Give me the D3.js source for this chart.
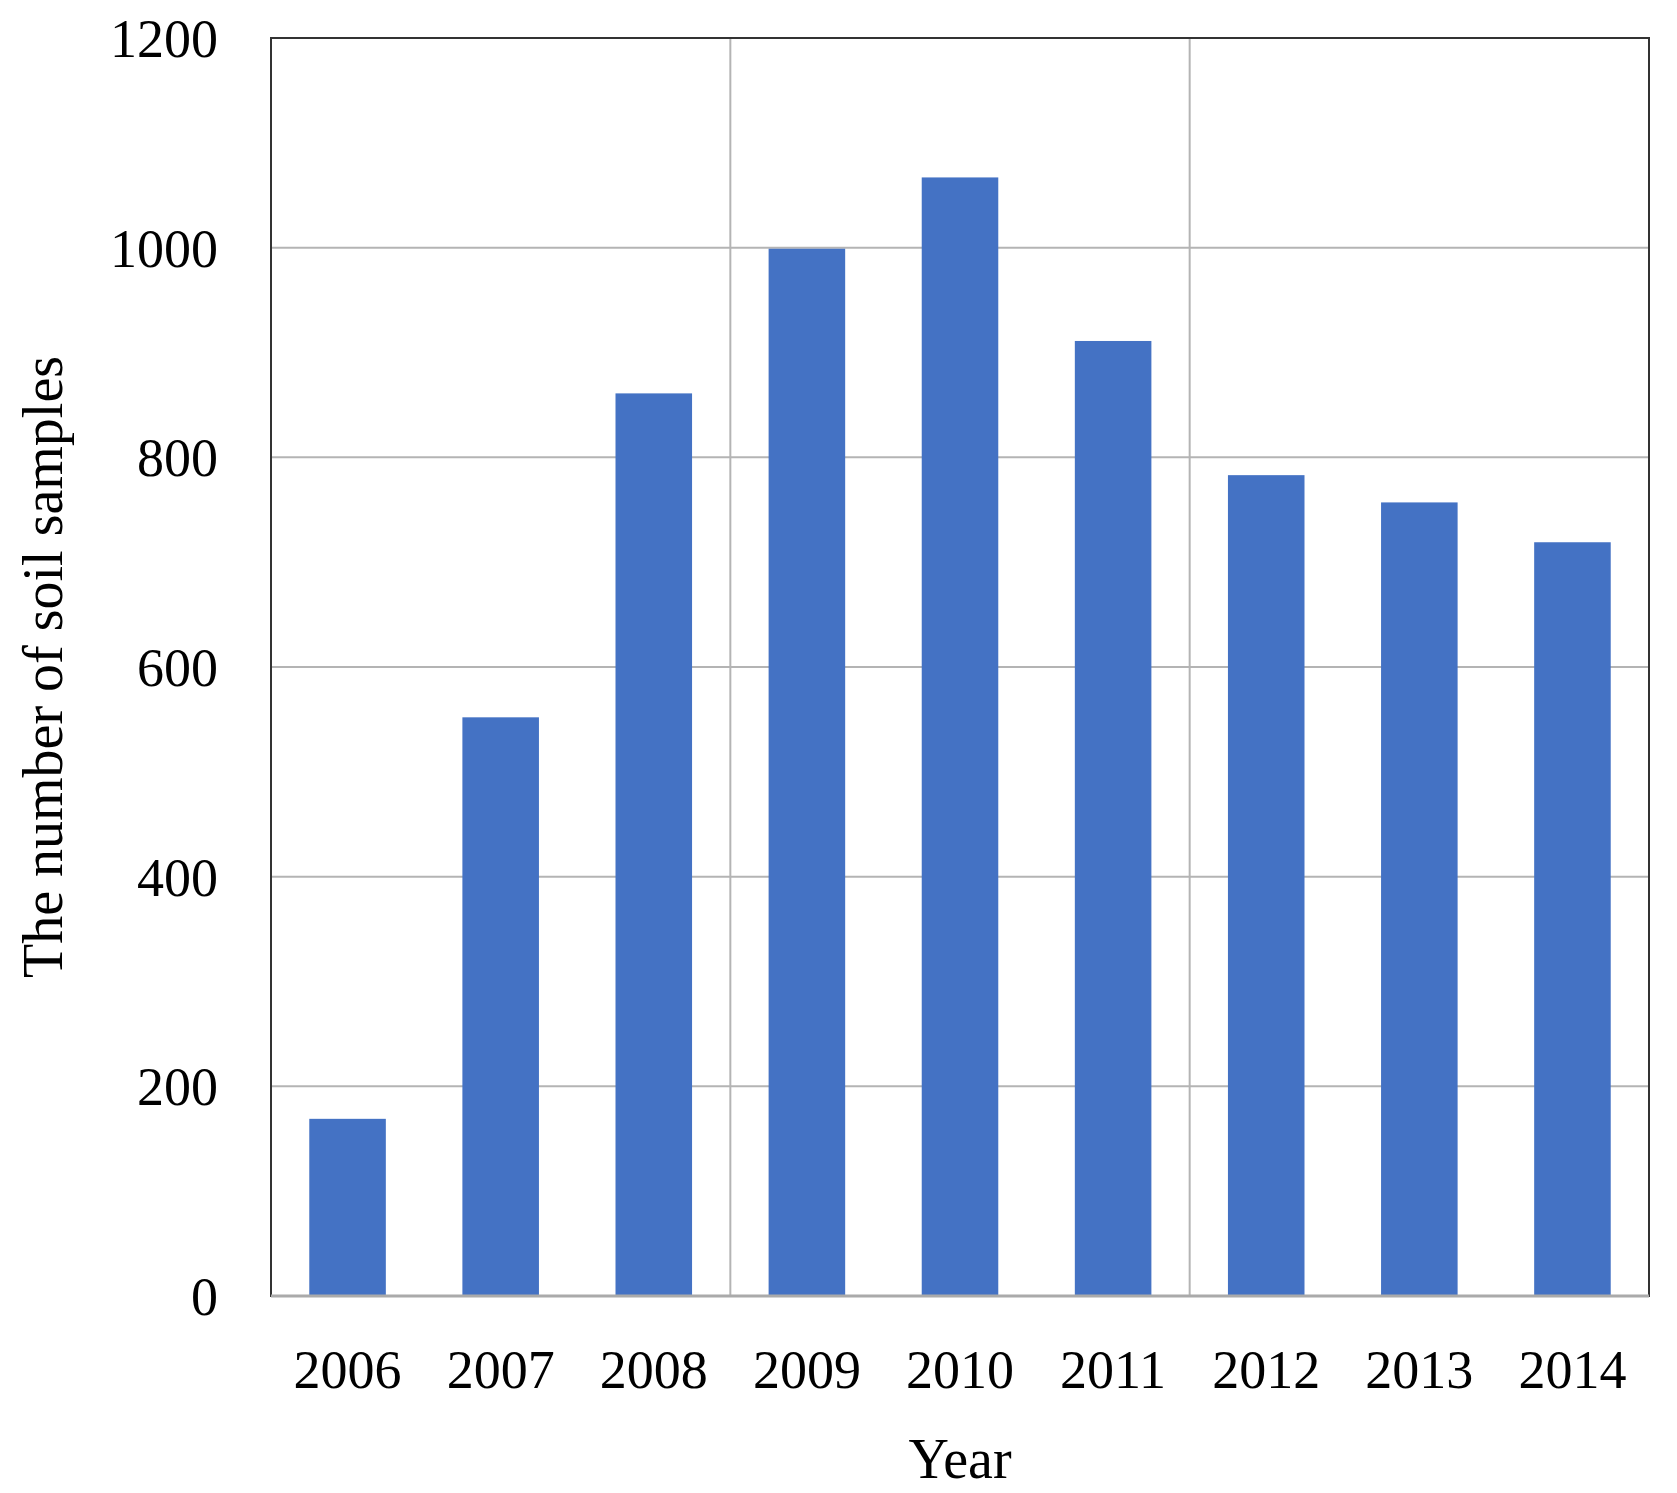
<!DOCTYPE html>
<html>
<head>
<meta charset="utf-8">
<script src="https://cdn.jsdelivr.net/npm/d3@7"></script>
<style>
  body { margin: 0; background: #fff; }
  text { font-family: "Liberation Serif", serif; fill: #000; }
</style>
</head>
<body>
<svg id="chart" width="1677" height="1493"></svg>
<script>
// data
const years = ["2006", "2007", "2008", "2009", "2010", "2011", "2012", "2013", "2014"];
const samples = [169, 552, 861, 999, 1067, 911, 783, 757, 719];
const yTicks = [0, 200, 400, 600, 800, 1000, 1200];

const svg = d3.select("#chart");
const plotLeft = 271, plotRight = 1649, plotTop = 38, plotBottom = 1296;

const x = d3.scaleBand().domain(years).range([plotLeft, plotRight]).paddingInner(0.5).paddingOuter(0.25);
const y = d3.scaleLinear().domain([0, 1200]).range([plotBottom, plotTop]);

// horizontal grid
svg.append("g").selectAll("line").data(yTicks).join("line")
  .attr("x1", plotLeft).attr("x2", plotRight)
  .attr("y1", d => y(d)).attr("y2", d => y(d))
  .attr("stroke", "#b4b4b4").attr("stroke-width", 2);

// vertical grid at thirds
svg.append("g").selectAll("line").data([1, 2]).join("line")
  .attr("x1", d => plotLeft + (plotRight - plotLeft) * d / 3)
  .attr("x2", d => plotLeft + (plotRight - plotLeft) * d / 3)
  .attr("y1", plotTop).attr("y2", plotBottom)
  .attr("stroke", "#b4b4b4").attr("stroke-width", 2);

// bars
svg.append("g").selectAll("rect").data(years).join("rect")
  .attr("x", d => x(d))
  .attr("width", x.bandwidth())
  .attr("y", (d, i) => y(samples[i]))
  .attr("height", (d, i) => y(0) - y(samples[i]))
  .attr("fill", "#4472c4");

// frame
svg.append("rect")
  .attr("x", plotLeft).attr("y", plotTop)
  .attr("width", plotRight - plotLeft).attr("height", plotBottom - plotTop)
  .attr("fill", "none").attr("stroke", "#333").attr("stroke-width", 2);
svg.append("line")
  .attr("x1", plotLeft).attr("x2", plotRight).attr("y1", plotBottom).attr("y2", plotBottom)
  .attr("stroke", "#aaa").attr("stroke-width", 3);

// y tick labels
svg.append("g").selectAll("text").data(yTicks).join("text")
  .attr("x", 218).attr("y", d => y(d))
  .attr("dy", "0.35em").attr("text-anchor", "end")
  .attr("font-size", 54)
  .text(d => d);

// x tick labels
svg.append("g").selectAll("text").data(years).join("text")
  .attr("x", d => x(d) + x.bandwidth() / 2).attr("y", 1388)
  .attr("text-anchor", "middle")
  .attr("font-size", 54)
  .text(d => d);

// axis titles
svg.append("text")
  .attr("x", (plotLeft + plotRight) / 2).attr("y", 1478)
  .attr("text-anchor", "middle").attr("font-size", 56)
  .text("Year");
svg.append("text")
  .attr("transform", "translate(62," + (plotTop + plotBottom) / 2 + ") rotate(-90)")
  .attr("text-anchor", "middle").attr("font-size", 56)
  .text("The number of soil samples");
</script>
</body>
</html>
